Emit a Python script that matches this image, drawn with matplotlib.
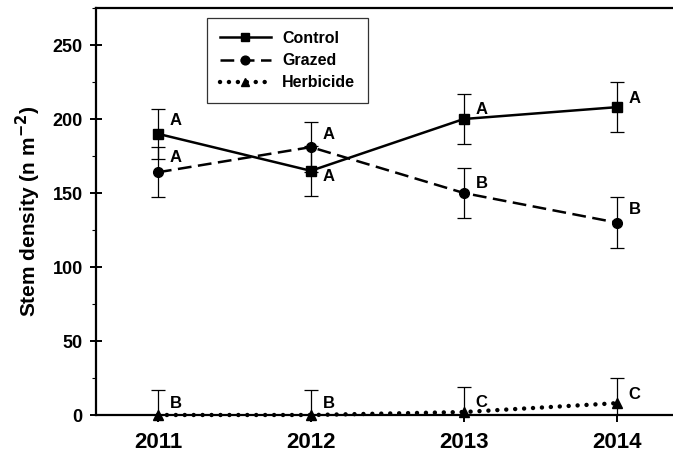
#!/usr/bin/env python3
"""
Stem density by treatment and year
"""
import matplotlib
matplotlib.use('Agg')
import matplotlib.pyplot as plt
from matplotlib.ticker import MultipleLocator

years = [2011, 2012, 2013, 2014]
control = [190, 165, 200, 208]
grazed = [164, 181, 150, 130]
herbicide = [0, 0, 2, 8]
err = [17, 17, 17, 17]
control_letters = ['A', 'A', 'A', 'A']
grazed_letters = ['A', 'A', 'B', 'B']
herbicide_letters = ['B', 'B', 'C', 'C']

plt.rcParams['font.family'] = ['Liberation Sans', 'DejaVu Sans']
plt.rcParams['font.weight'] = 'bold'


def main():
  fig = plt.figure(figsize=(6.73, 4.59), dpi=100)
  ax = fig.add_axes([96 / 673, 44 / 459, 577 / 673, 407 / 459])

  series = [
    (control, control_letters, 's', '-', 6.5, 'Control', [13, -6, 10, 9]),
    (grazed, grazed_letters, 'o', (0, (5.5, 2.6)), 7, 'Grazed', [15, 13, 10, 13]),
    (herbicide, herbicide_letters, '^', (0, (0.01, 2.0)), 7, 'Herbicide', [11, 11, 10, 9]),
  ]
  for values, letters, marker, ls, ms, label, dys in series:
    ax.errorbar(years, values, yerr=err, fmt='none', ecolor='black',
                elinewidth=0.9, capsize=5, capthick=0.9, zorder=2)
    dotted = label == 'Herbicide'
    ax.plot(years, values, color='black', linestyle=ls, linewidth=3.2 if dotted else 1.8,
            marker=marker, markersize=ms, markeredgecolor='black',
            dash_capstyle='round' if dotted else 'butt',
            label=label, clip_on=False, zorder=3)
    for x, y, letter, dy in zip(years, values, letters, dys):
      ax.annotate(letter, (x, y), xytext=(12, dy), textcoords='offset pixels',
                  ha='left', va='center', fontsize=12, fontweight='bold')

  ax.set_xlim(2010.595, 2014.368)
  ax.set_ylim(0, 275)
  ax.set_xticks(years)
  ax.set_xticklabels([str(y) for y in years], fontsize=16, fontweight='bold')
  ax.yaxis.set_minor_locator(MultipleLocator(25))
  ax.set_yticks([0, 50, 100, 150, 200, 250])
  for t in ax.get_yticklabels():
    t.set_fontsize(13)
    t.set_fontweight('bold')
  ax.tick_params(axis='y', which='major', direction='inout', length=9, width=1.4, pad=5)
  ax.tick_params(axis='y', which='minor', direction='out', length=3, width=0.8)
  ax.tick_params(axis='x', which='major', direction='out', length=5, width=1.4, pad=7)
  ax.spines['right'].set_visible(False)
  for s in ('left', 'bottom', 'top'):
    ax.spines[s].set_linewidth(1.6)

  ax.set_ylabel('Stem density (n m$^{\\mathbf{-2}}$)', fontsize=15, fontweight='bold',
                labelpad=7)

  leg = ax.legend(loc='upper left', bbox_to_anchor=(111 / 577, 0.975), borderaxespad=0,
                  fontsize=11.5, frameon=True, fancybox=False, edgecolor='black',
                  handlelength=3.2, handletextpad=0.7, borderpad=0.8, labelspacing=0.45,
                  markerscale=0.9)
  leg.get_frame().set_linewidth(0.9)

  fig.savefig('out.png', dpi=100)


if __name__ == '__main__':
  main()
